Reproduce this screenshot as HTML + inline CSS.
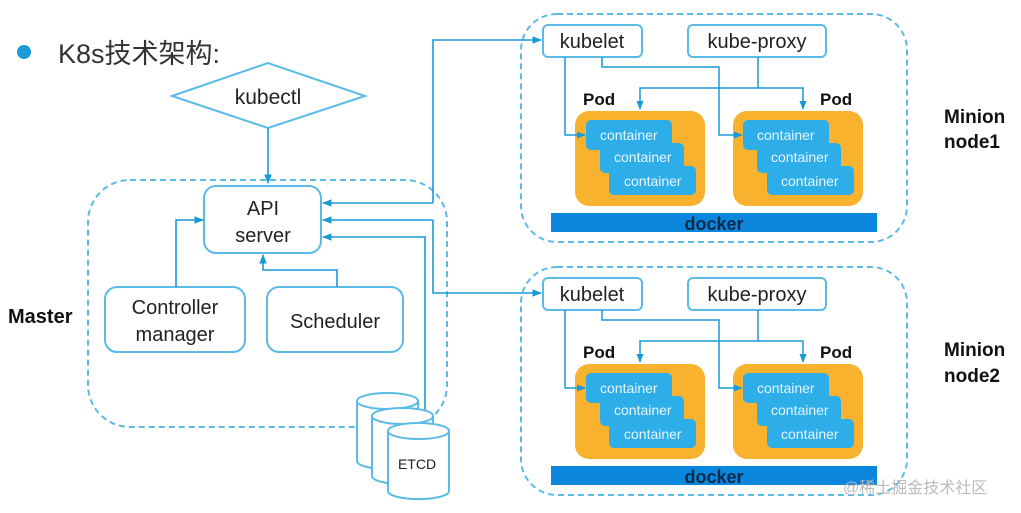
<!DOCTYPE html>
<html><head><meta charset="utf-8"><style>
html,body{margin:0;padding:0;background:#fff;}
svg{display:block;font-family:"Liberation Sans","Noto Sans CJK SC",sans-serif;}
</style></head><body>
<svg width="1021" height="513" viewBox="0 0 1021 513" xmlns="http://www.w3.org/2000/svg">
<defs>
<marker id="a" viewBox="0 0 10 10" refX="9" refY="5" markerWidth="6" markerHeight="6" orient="auto"><path d="M0,1 L10,5 L0,9 z" fill="#1a9ad6"/></marker>
</defs>
<circle cx="24" cy="52" r="7" fill="#1a9ad6"/>
<text x="58" y="63" font-size="27" fill="#333">K8s技术架构:</text>
<polygon points="172,96 268,63 365,96 268,128" fill="#fff" stroke="#5bbbe6" stroke-width="2"/>
<text x="268" y="104" font-size="21" text-anchor="middle" fill="#222">kubectl</text>
<line x1="268" y1="128" x2="268" y2="183" stroke="#1a9ad6" stroke-width="1.6" marker-end="url(#a)"/>
<rect x="88" y="180" width="359" height="247" rx="42" fill="none" stroke="#5bbbe6" stroke-width="2" stroke-dasharray="6,4"/>
<text x="8" y="323" font-size="20" font-weight="bold" fill="#111">Master</text>
<rect x="204" y="186" width="117" height="67" rx="12" fill="#fff" stroke="#5bbbe6" stroke-width="2"/>
<text x="263" y="215" font-size="20" text-anchor="middle" fill="#222">API</text>
<text x="263" y="242" font-size="20" text-anchor="middle" fill="#222">server</text>
<rect x="105" y="287" width="140" height="65" rx="12" fill="#fff" stroke="#5bbbe6" stroke-width="2"/>
<text x="175" y="314" font-size="20" text-anchor="middle" fill="#222">Controller</text>
<text x="175" y="341" font-size="20" text-anchor="middle" fill="#222">manager</text>
<rect x="267" y="287" width="136" height="65" rx="12" fill="#fff" stroke="#5bbbe6" stroke-width="2"/>
<text x="335" y="328" font-size="20" text-anchor="middle" fill="#222">Scheduler</text>
<g fill="none" stroke="#1a9ad6" stroke-width="1.6">
<polyline points="176,287 176,220 203,220" marker-end="url(#a)"/>
<polyline points="337,287 337,270 263,270 263,255" marker-end="url(#a)"/>
<polyline points="433,203 323,203" marker-end="url(#a)"/>
<polyline points="433,203 433,40 541,40" marker-end="url(#a)"/>
<polyline points="433,220 323,220" marker-end="url(#a)"/>
<polyline points="433,220 433,293 541,293" marker-end="url(#a)"/>
<polyline points="425,415 425,237 323,237" marker-end="url(#a)"/>
</g>
<g fill="#fff" stroke="#5bbbe6" stroke-width="2">
<path d="M357,401 v60 a30,8 0 0 0 61,0 v-60"/><ellipse cx="387.5" cy="401" rx="30.5" ry="8"/>
<path d="M372,416 v60 a30,8 0 0 0 61,0 v-60"/><ellipse cx="402.5" cy="416" rx="30.5" ry="8"/>
<path d="M388,431 v60 a30,8 0 0 0 61,0 v-60"/><ellipse cx="418.5" cy="431" rx="30.5" ry="8"/>
</g>
<text x="417" y="469" font-size="14" text-anchor="middle" fill="#222">ETCD</text>
<g id="n1">
<rect x="521" y="14" width="386" height="228" rx="36" fill="none" stroke="#5bbbe6" stroke-width="2" stroke-dasharray="6,4"/>
<rect x="543" y="25" width="99" height="32" rx="5" fill="#fff" stroke="#5bbbe6" stroke-width="2"/>
<text x="592" y="48" font-size="20" text-anchor="middle" fill="#222">kubelet</text>
<rect x="688" y="25" width="138" height="32" rx="5" fill="#fff" stroke="#5bbbe6" stroke-width="2"/>
<text x="757" y="48" font-size="20" text-anchor="middle" fill="#222">kube-proxy</text>
<text x="583" y="105" font-size="17" font-weight="bold" fill="#111">Pod</text>
<text x="820" y="105" font-size="17" font-weight="bold" fill="#111">Pod</text>
<rect x="575" y="111" width="130" height="95" rx="14" fill="#f8b22e"/>
<rect x="733" y="111" width="130" height="95" rx="14" fill="#f8b22e"/>
<g fill="#2eaee8">
<rect x="586" y="120" width="86" height="30" rx="5"/><rect x="600" y="143" width="84" height="30" rx="5"/><rect x="609" y="166" width="87" height="29" rx="5"/>
<rect x="743" y="120" width="86" height="30" rx="5"/><rect x="757" y="143" width="84" height="30" rx="5"/><rect x="767" y="166" width="87" height="29" rx="5"/>
</g>
<g font-size="14" fill="#e8f6ff">
<text x="600" y="140">container</text><text x="614" y="162">container</text><text x="624" y="186">container</text>
<text x="757" y="140">container</text><text x="771" y="162">container</text><text x="781" y="186">container</text>
</g>
<rect x="551" y="213" width="326" height="19" fill="#0a86dc"/>
<text x="714" y="230" font-size="18" font-weight="bold" text-anchor="middle" fill="#0b2a4a">docker</text>
<g fill="none" stroke="#1a9ad6" stroke-width="1.5">
<polyline points="565,57 565,135 585,135" marker-end="url(#a)"/>
<polyline points="602,57 602,67 719,67 719,135 742,135" marker-end="url(#a)"/>
<polyline points="758,57 758,88 640,88 640,109" marker-end="url(#a)"/>
<polyline points="758,88 803,88 803,109" marker-end="url(#a)"/>
</g>
</g>
<use href="#n1" transform="translate(0,253)"/>
<text x="944" y="123" font-size="19" font-weight="bold" fill="#111">Minion</text>
<text x="944" y="148" font-size="19" font-weight="bold" fill="#111">node1</text>
<text x="944" y="356" font-size="19" font-weight="bold" fill="#111">Minion</text>
<text x="944" y="382" font-size="19" font-weight="bold" fill="#111">node2</text>
<text x="843" y="493" font-size="16" fill="#bbb">@稀土掘金技术社区</text>
</svg>
</body></html>
